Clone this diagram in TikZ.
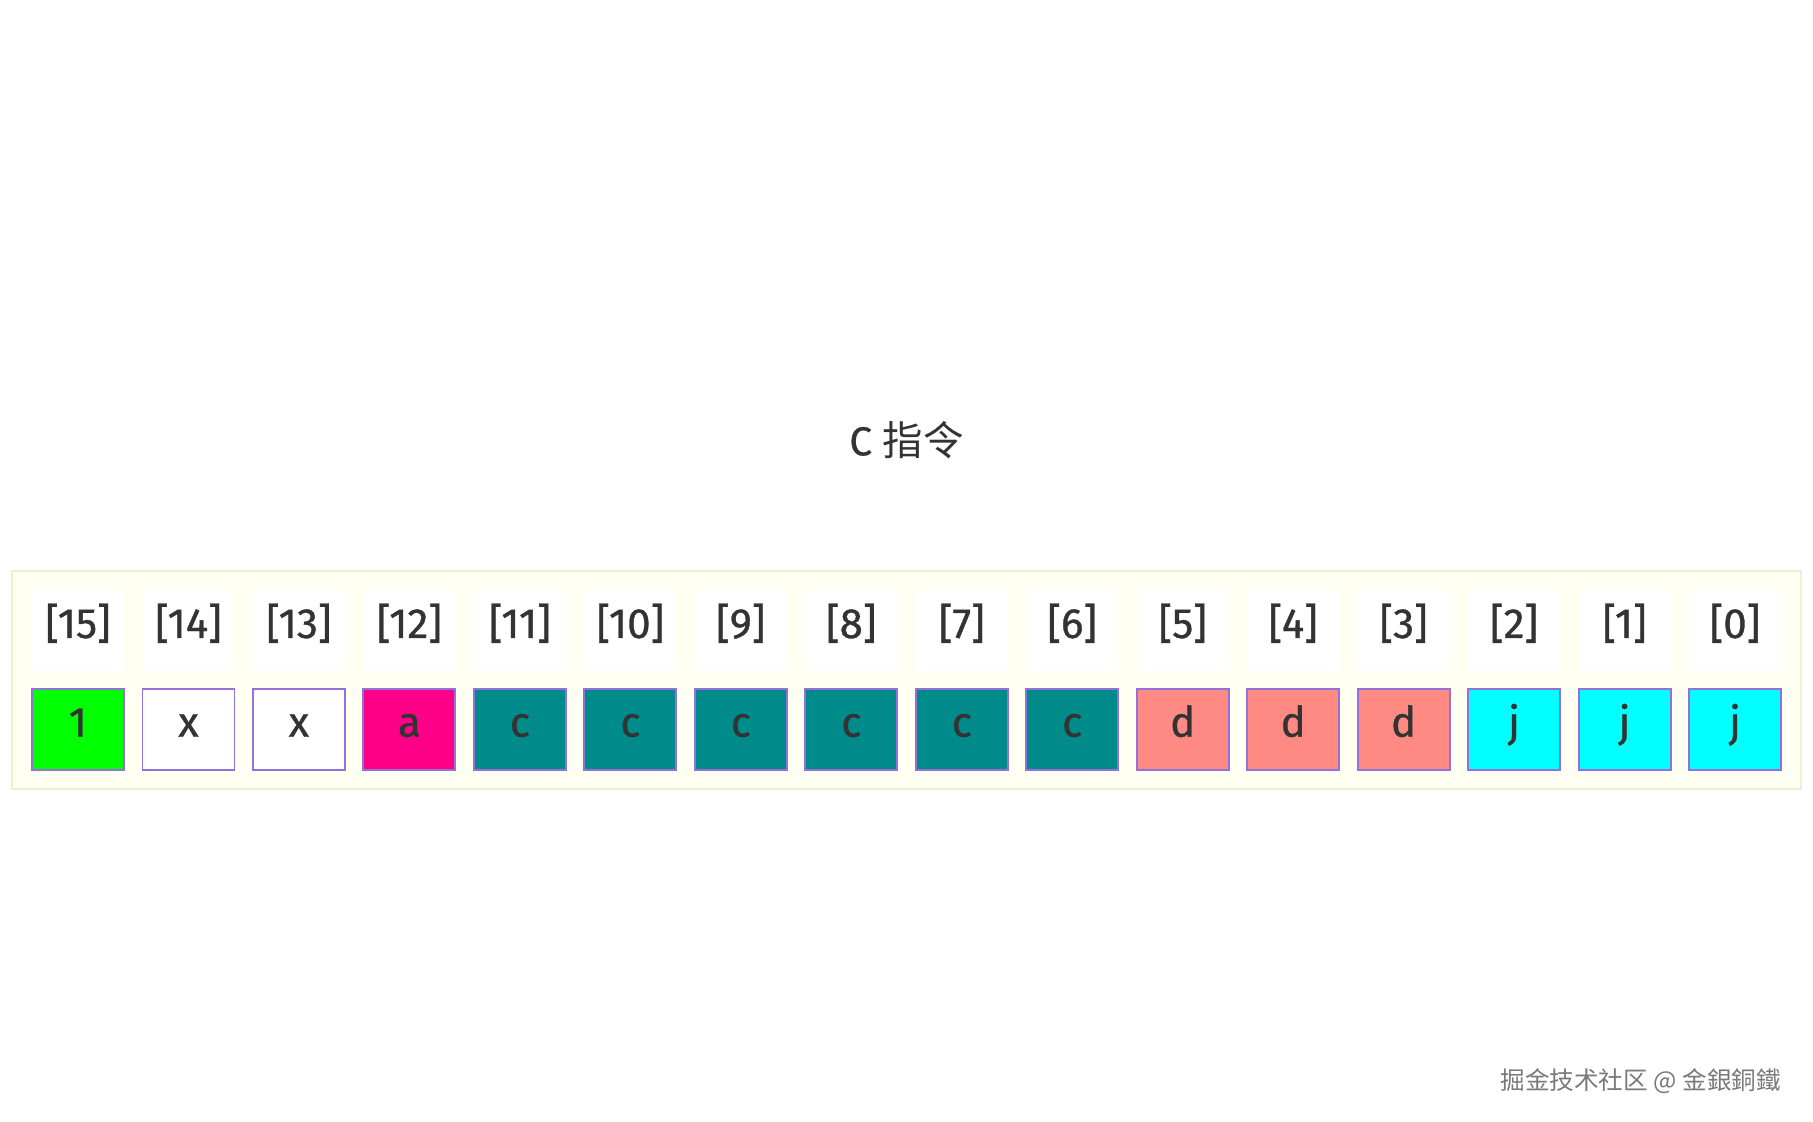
\documentclass[tikz,border=0pt]{standalone}
\usepackage{fontspec}
\setmainfont{Fira Sans}
\newfontfamily\cellfont{Fira Sans}[FakeBold=0.8]
\newfontfamily\cjk{Noto Sans CJK SC}
\definecolor{txt}{HTML}{333333}
\definecolor{edge}{HTML}{9370DB}
\definecolor{panelbg}{HTML}{FFFFF2}
\definecolor{panelline}{HTML}{EEF0D2}
\definecolor{opgreen}{HTML}{00FF00}
\definecolor{oppink}{HTML}{FF0088}
\definecolor{opteal}{HTML}{008B8B}
\definecolor{opsalmon}{HTML}{FF8A84}
\definecolor{opcyan}{HTML}{00FFFF}
\definecolor{mark}{HTML}{7A7A7A}

\begin{document}
\begin{tikzpicture}[x=0.02cm,y=-0.02cm,
  idx node/.style={rectangle,fill=white,minimum width=1.84cm,minimum height=1.62cm,inner sep=0pt,
    text=txt,text height=0.85em,text depth=0em,font=\cellfont\fontsize{24}{28}\selectfont},
  bit node/.style={rectangle,draw=edge,line width=1.1pt,minimum width=1.84cm,minimum height=1.62cm,
    inner sep=0pt,text=txt,text height=0.85em,text depth=0.03em,font=\cellfont\fontsize{24}{28}\selectfont}]

  \useasboundingbox (0,0) rectangle (1813,1122);
  \fill[white] (0,0) rectangle (1813,1122);

  \node[text=txt,font=\cellfont\fontsize{23}{27}\selectfont] (title) at (906.5,440) {C {\cjk 指令}};

  \draw[fill=panelbg,draw=panelline,line width=1.2pt] (12,571) rectangle (1801,789);

  \node[idx node] (h15) at (78,630.5) {[15]};
  \node[idx node] (h14) at (188.5,630.5) {[14]};
  \node[idx node] (h13) at (298.9,630.5) {[13]};
  \node[idx node] (h12) at (409.4,630.5) {[12]};
  \node[idx node] (h11) at (519.9,630.5) {[11]};
  \node[idx node] (h10) at (630.4,630.5) {[10]};
  \node[idx node] (h9) at (740.8,630.5) {[9]};
  \node[idx node] (h8) at (851.3,630.5) {[8]};
  \node[idx node] (h7) at (961.8,630.5) {[7]};
  \node[idx node] (h6) at (1072.2,630.5) {[6]};
  \node[idx node] (h5) at (1182.7,630.5) {[5]};
  \node[idx node] (h4) at (1293.2,630.5) {[4]};
  \node[idx node] (h3) at (1403.6,630.5) {[3]};
  \node[idx node] (h2) at (1514.1,630.5) {[2]};
  \node[idx node] (h1) at (1624.6,630.5) {[1]};
  \node[idx node] (h0) at (1735,630.5) {[0]};

  \node[bit node,fill=opgreen] (b15) at (78,729.5) {1};
  \node[bit node,fill=white] (b14) at (188.5,729.5) {x};
  \node[bit node,fill=white] (b13) at (298.9,729.5) {x};
  \node[bit node,fill=oppink] (b12) at (409.4,729.5) {a};
  \node[bit node,fill=opteal] (b11) at (519.9,729.5) {c};
  \node[bit node,fill=opteal] (b10) at (630.4,729.5) {c};
  \node[bit node,fill=opteal] (b9) at (740.8,729.5) {c};
  \node[bit node,fill=opteal] (b8) at (851.3,729.5) {c};
  \node[bit node,fill=opteal] (b7) at (961.8,729.5) {c};
  \node[bit node,fill=opteal] (b6) at (1072.2,729.5) {c};
  \node[bit node,fill=opsalmon] (b5) at (1182.7,729.5) {d};
  \node[bit node,fill=opsalmon] (b4) at (1293.2,729.5) {d};
  \node[bit node,fill=opsalmon] (b3) at (1403.6,729.5) {d};
  \node[bit node,fill=opcyan] (b2) at (1514.1,729.5) {j};
  \node[bit node,fill=opcyan] (b1) at (1624.6,729.5) {j};
  \node[bit node,fill=opcyan] (b0) at (1735,729.5) {j};

  \node[anchor=east,text=mark,font=\cjk\fontsize{14}{17}\selectfont] (credit) at (1787,1081) {掘金技术社区 @ 金銀銅鐵};
\end{tikzpicture}
\end{document}
